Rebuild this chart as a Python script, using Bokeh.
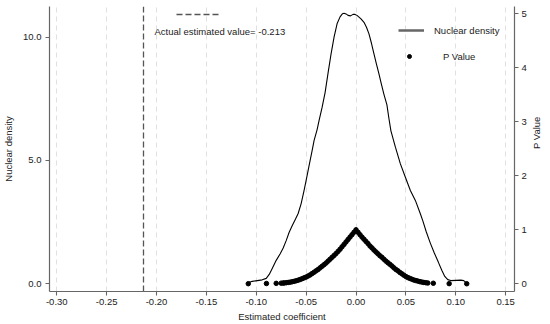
from math import pi
from bokeh.plotting import figure
from bokeh.models import (Range1d, LinearAxis, FixedTicker, Legend, LegendItem,
                          Label, NumeralTickFormatter)
from bokeh.embed import file_html
from bokeh.resources import INLINE

# ---------------- data ----------------
density_x = [-0.109, -0.104, -0.099, -0.094, -0.090, -0.087, -0.084, -0.080, -0.076, -0.073,
             -0.070, -0.067, -0.064, -0.061, -0.058, -0.055, -0.052, -0.050, -0.047, -0.044,
             -0.042, -0.039, -0.037, -0.034, -0.031, -0.028, -0.025, -0.022, -0.019, -0.016,
             -0.0135, -0.012, -0.010, -0.008, -0.0055, -0.003, -0.001, 0.001, 0.003, 0.005,
             0.008, 0.0105, 0.013, 0.0155, 0.018, 0.0205, 0.023, 0.0255, 0.028, 0.031,
             0.033, 0.035, 0.0395, 0.0445, 0.0495, 0.0545, 0.0595, 0.0645, 0.067, 0.0705,
             0.0745, 0.0785, 0.0825, 0.086, 0.089, 0.092, 0.095, 0.100, 0.105, 0.108, 0.111]
density_y = [0.03, 0.10, 0.13, 0.16, 0.22, 0.38, 0.62, 0.95, 1.22, 1.45,
             1.75, 2.09, 2.35, 2.60, 2.85, 3.25, 3.80, 4.19, 4.80, 5.40,
             5.81, 6.25, 6.62, 7.15, 7.75, 8.55, 9.32, 10.0, 10.54, 10.82,
             10.95, 10.97, 10.94, 10.88, 10.86, 10.92, 10.92, 10.88, 10.81, 10.74,
             10.60, 10.40, 10.13, 9.75, 9.32, 8.90, 8.51, 8.08, 7.68, 7.25,
             6.70, 6.20, 5.54, 4.86, 4.32, 3.78, 3.38, 2.84, 2.55, 2.10,
             1.65, 1.25, 0.88, 0.55, 0.30, 0.17, 0.13, 0.14, 0.15, 0.13, 0.03]

pval_x = [-0.108, -0.0898, -0.080, -0.075, -0.073,
          -0.072, -0.070, -0.068, -0.066, -0.064, -0.062, -0.060, -0.058, -0.056, -0.054,
          -0.052, -0.050, -0.048, -0.046, -0.044, -0.042, -0.040, -0.038, -0.036, -0.034,
          -0.032, -0.030, -0.028, -0.026, -0.024, -0.022, -0.020, -0.018, -0.016, -0.014,
          -0.012, -0.010, -0.008, -0.006, -0.004, -0.002, 0.000,
          0.002, 0.004, 0.006, 0.008, 0.010, 0.012, 0.014, 0.016, 0.018, 0.020,
          0.022, 0.024, 0.026, 0.028, 0.030, 0.032, 0.034, 0.036, 0.038, 0.040,
          0.042, 0.044, 0.046, 0.048, 0.050, 0.052, 0.054, 0.056, 0.058, 0.060,
          0.062, 0.064, 0.066, 0.068, 0.070, 0.072,
          0.0775, 0.0934, 0.111]
pval_y = [0.002, 0.005, 0.008, 0.012, 0.014,
          0.016, 0.020, 0.025, 0.031, 0.038, 0.046, 0.056, 0.067, 0.080, 0.095,
          0.110, 0.125, 0.145, 0.165, 0.190, 0.215, 0.240, 0.265, 0.295, 0.325,
          0.355, 0.385, 0.420, 0.455, 0.490, 0.525, 0.560, 0.600, 0.640, 0.685,
          0.730, 0.775, 0.820, 0.865, 0.910, 0.955, 1.000,
          0.955, 0.910, 0.865, 0.825, 0.785, 0.745, 0.700, 0.665, 0.625, 0.590,
          0.555, 0.520, 0.490, 0.455, 0.420, 0.390, 0.360, 0.330, 0.295, 0.265,
          0.240, 0.210, 0.185, 0.160, 0.135, 0.115, 0.100, 0.085, 0.070, 0.060,
          0.050, 0.040, 0.032, 0.025, 0.020, 0.015,
          0.010, 0.003, 0.001]

actual_value = -0.213
x_ticks = [-0.30, -0.25, -0.20, -0.15, -0.10, -0.05, 0.00, 0.05, 0.10, 0.15]
left_ticks = [0, 5, 10]
right_ticks = [0, 1, 2, 3, 4, 5]

x_title = "Estimated coefficient"
left_title = "Nuclear density"
right_title = "P Value"
density_label = "Nuclear density"
pval_label = "P Value"
actual_label = "Actual estimated value= %.3f" % actual_value

# ---------------- figure ----------------
FONT = "Liberation Sans"
FS = "9.5px"
AXC = "#666666"
TXT = "#222222"

p = figure(width=550, height=324, output_backend="svg", toolbar_location=None,
           x_range=Range1d(-0.3073, 0.1589), y_range=Range1d(-0.312, 11.24),
           min_border_left=48, min_border_right=33, min_border_top=6, min_border_bottom=33)
p.extra_y_ranges = {"p": Range1d(-0.1426, 5.135)}
p.outline_line_color = None
p.background_fill_color = "white"
p.border_fill_color = "white"

p.xaxis.ticker = FixedTicker(ticks=x_ticks)
p.xaxis.formatter = NumeralTickFormatter(format="0.00")
p.yaxis.ticker = FixedTicker(ticks=left_ticks)
p.yaxis.formatter = NumeralTickFormatter(format="0.0")

raxis = LinearAxis(y_range_name="p", ticker=FixedTicker(ticks=right_ticks))
p.add_layout(raxis, "right")

p.xaxis.axis_label = x_title
p.yaxis.axis_label = left_title
raxis.axis_label = right_title

for ax, stand, lstand in ((p.xaxis[0], 3, 3), (p.yaxis[0], 4, 6), (raxis, 3, 7)):
    ax.axis_line_color = AXC
    ax.axis_line_width = 1.2
    ax.major_tick_line_color = AXC
    ax.major_tick_line_width = 1.1
    ax.minor_tick_line_color = None
    ax.major_tick_out = 4
    ax.major_tick_in = 0
    ax.major_label_standoff = stand
    ax.major_label_text_font = FONT
    ax.major_label_text_font_size = FS
    ax.major_label_text_color = TXT
    ax.axis_label_standoff = lstand
    ax.axis_label_text_font = FONT
    ax.axis_label_text_font_size = FS
    ax.axis_label_text_font_style = "normal"
    ax.axis_label_text_color = TXT

# read bottom-to-top like the reference
raxis.axis_label_orientation = pi / 2

p.xgrid.ticker = FixedTicker(ticks=x_ticks)
p.xgrid.grid_line_color = "#e0e0e0"
p.xgrid.grid_line_dash = "5 4"
p.xgrid.grid_line_width = 1
p.ygrid.grid_line_color = None

# actual estimated value: vertical dashed line
vline = p.vspan(x=[actual_value], line_color="#555555", line_width=1.3, line_dash="6 3")

dens = p.line(density_x, density_y, line_color="black", line_width=1.1)
pts = p.scatter(pval_x, pval_y, y_range_name="p", size=4.5, color="black")

# legend sample for the density (gray thick key, no visible data)
dens_key = p.line([float("nan")], [float("nan")], line_color="#666666", line_width=2.5)


def mk_legend(items, loc, gw, standoff):
    lg = Legend(items=items, location=loc, padding=0, margin=0, spacing=0,
                glyph_width=gw, glyph_height=12, label_height=12, label_standoff=standoff,
                border_line_color=None, background_fill_alpha=0,
                label_text_font=FONT, label_text_font_size=FS, label_text_color=TXT)
    p.add_layout(lg)
    return lg


mk_legend([LegendItem(label=density_label, renderers=[dens_key])], (349, 255), 26, 10)
mk_legend([LegendItem(label=pval_label, renderers=[pts])], (355, 229), 10, 29)
mk_legend([LegendItem(label=" ", renderers=[vline])], (127, 271), 43, 0)

p.add_layout(Label(x=105, y=260, x_units="screen", y_units="screen", text=actual_label,
                   text_font=FONT, text_font_size=FS, text_color=TXT, text_baseline="middle"))

open("out.html", "w").write(file_html(p, INLINE))
